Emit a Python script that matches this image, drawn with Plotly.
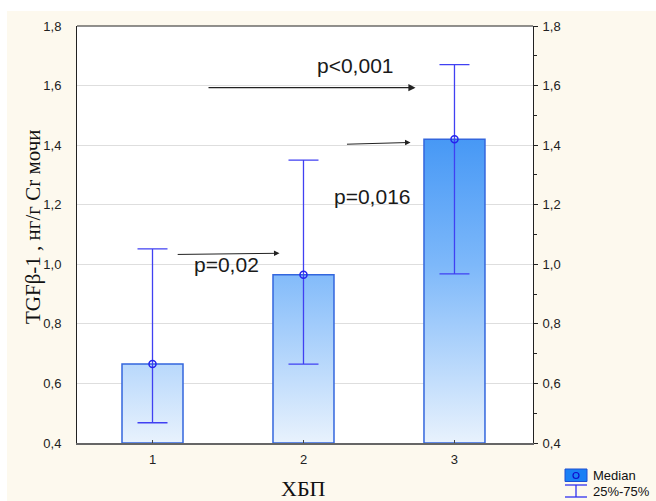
import plotly.graph_objects as go

categories = [1, 2, 3]
medians = [0.665, 0.965, 1.42]
q25 = [0.468, 0.665, 0.968]
q75 = [1.052, 1.35, 1.67]
tick_vals = [0.4, 0.6, 0.8, 1.0, 1.2, 1.4, 1.6, 1.8]
tick_text = ["0,4", "0,6", "0,8", "1,0", "1,2", "1,4", "1,6", "1,8"]
p_labels = ["p<0,001", "p=0,016", "p=0,02"]

BAR_W = 0.404
Y0 = 0.4
L, R, T, B = 77, 123, 26, 58
W, H = 656, 501
PW, PH = W - L - R, H - T - B

def px(x):
    return (x - L) / PW

def py(y):
    return (H - B - y) / PH

grad = [[0.0, "#e8f2fd"], [0.57, "#7db8fa"], [1.0, "#4396f5"]]

fig = go.Figure()
for c, m in zip(categories, medians):
    xs = [c - BAR_W / 2, c - BAR_W / 2, c + BAR_W / 2, c + BAR_W / 2, c - BAR_W / 2]
    ys = [Y0, m, m, Y0, Y0]
    fig.add_trace(go.Scatter(
        x=xs, y=ys, mode="lines", fill="toself",
        fillgradient=dict(type="vertical", colorscale=grad, start=0.4, stop=1.45),
        line=dict(color="#3366dd", width=1.5),
        hoverinfo="skip", showlegend=False))

fig.add_trace(go.Scatter(
    x=categories, y=medians, mode="markers",
    marker=dict(symbol="circle-open", size=7, color="#2424ee", line=dict(width=1.5)),
    error_y=dict(type="data", symmetric=False,
                 array=[h - m for h, m in zip(q75, medians)],
                 arrayminus=[m - l for l, m in zip(q25, medians)],
                 color="#4040f2", thickness=1.3, width=15),
    showlegend=False))

# invisible trace for right axis
fig.add_trace(go.Scatter(x=[categories[0]], y=[medians[0]], yaxis="y2",
                         mode="markers", marker=dict(opacity=0), showlegend=False,
                         hoverinfo="skip"))

ann = []
arrows = [
    (1.361, 1.593, 2.742, 1.593, 1.3),
    (2.278, 1.403, 2.709, 1.409, 1.0),
    (1.157, 1.033, 1.841, 1.037, 1.0),
]
for x0, y0, x1, y1, wdt in arrows:
    ann.append(dict(x=x1, y=y1, ax=x0, ay=y0, xref="x", yref="y", axref="x", ayref="y",
                    text="", showarrow=True, arrowhead=2, arrowsize=1.1,
                    arrowwidth=wdt, arrowcolor="#222222", standoff=0))
label_pos = [(2.344, 1.668), (2.454, 1.226), (1.49, 0.998)]
for (lx, ly), t in zip(label_pos, p_labels):
    ann.append(dict(x=lx, y=ly, xref="x", yref="y", text=t, showarrow=False,
                    xanchor="center", yanchor="middle",
                    font=dict(family="Liberation Sans, Arial", size=21, color="#1a1a1a")))

ann.append(dict(x=px(33), y=py(227), xref="paper", yref="paper", textangle=-90,
                xanchor="center", yanchor="middle",
                text="TGFβ-1 , нг/г Cr мочи", showarrow=False,
                font=dict(family="Liberation Serif, Times New Roman", size=21, color="#111")))
ann.append(dict(x=px(303), y=py(488), xref="paper", yref="paper",
                xanchor="center", yanchor="middle",
                text="ХБП", showarrow=False,
                font=dict(family="Liberation Serif, Times New Roman", size=22, color="#111")))
ann.append(dict(x=px(591), y=py(475), xref="paper", yref="paper", xanchor="left",
                yanchor="middle", text="Median", showarrow=False,
                font=dict(family="Liberation Sans, Arial", size=13, color="#111")))
ann.append(dict(x=px(591), y=py(491), xref="paper", yref="paper", xanchor="left",
                yanchor="middle", text="25%-75%", showarrow=False,
                font=dict(family="Liberation Sans, Arial", size=13, color="#111")))

shapes = [
    dict(type="rect", xref="paper", yref="paper", x0=px(7), x1=px(W + 5), y0=py(11), y1=py(H + 5),
         fillcolor="#fdf9ee", line=dict(width=0), layer="below"),
    dict(type="rect", xref="paper", yref="paper", x0=0, x1=1, y0=0, y1=1,
         fillcolor="white", line=dict(width=0), layer="below"),
    dict(type="rect", xref="paper", yref="paper", x0=px(565), x1=px(587), y0=py(481.5), y1=py(469),
         fillcolor="#1a80f5", line=dict(color="#1f4fd0", width=1)),
    dict(type="circle", xref="paper", yref="paper", x0=px(573), x1=px(579), y0=py(478.5), y1=py(472.5),
         line=dict(color="#1010cc", width=1.2)),
    dict(type="line", xref="paper", yref="paper", x0=px(565), x1=px(587), y0=py(485), y1=py(485),
         line=dict(color="#3030f0", width=1.3)),
    dict(type="line", xref="paper", yref="paper", x0=px(576), x1=px(576), y0=py(485), y1=py(497),
         line=dict(color="#3030f0", width=1.3)),
    dict(type="line", xref="paper", yref="paper", x0=px(565), x1=px(587), y0=py(497), y1=py(497),
         line=dict(color="#3030f0", width=1.3)),
    dict(type="line", xref="paper", yref="paper", x0=0, x1=1, y0=1, y1=1,
         line=dict(color="#222", width=1)),
]

fig.update_layout(
    width=W, height=H,
    margin=dict(l=L, r=R, t=T, b=B),
    paper_bgcolor="white", plot_bgcolor="rgba(0,0,0,0)",
    font=dict(family="Liberation Sans, Arial", size=13, color="#222"),
    xaxis=dict(range=[0.5, 3.52], tickvals=categories, ticktext=[str(c) for c in categories],
               ticks="inside", ticklen=3, tickcolor="#444", showgrid=False, zeroline=False,
               showline=True, linecolor="#666", linewidth=2, ticklabelstandoff=3,
               tickfont=dict(size=13)),
    yaxis=dict(range=[0.4, 1.8], tickvals=tick_vals, ticktext=tick_text, ticks="",
               showgrid=True, gridcolor="#dedede", gridwidth=1, zeroline=False,
               showline=True, linecolor="#222", linewidth=1, ticklabelstandoff=12,
               tickfont=dict(size=13)),
    yaxis2=dict(range=[0.4, 1.8], tickvals=tick_vals, ticktext=tick_text, overlaying="y",
                side="right", ticks="outside", ticklen=4, tickcolor="#222",
                minor=dict(dtick=0.1, tick0=0.4, ticks="outside", ticklen=3, tickcolor="#222"),
                showgrid=False, zeroline=False, showline=True, linecolor="#222", linewidth=1,
                ticklabelstandoff=2, tickfont=dict(size=13)),
    annotations=ann,
    shapes=shapes,
)

fig.write_html("out.html")
